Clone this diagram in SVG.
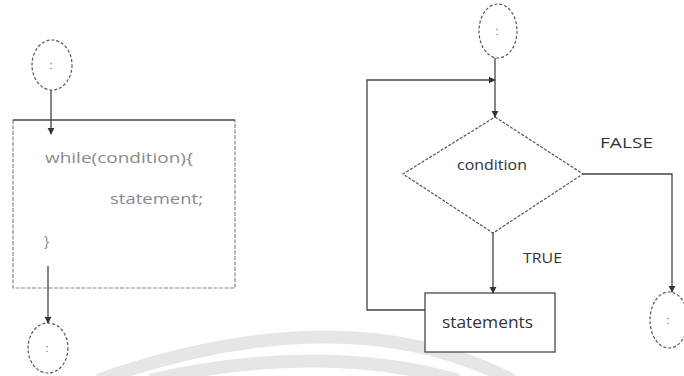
<svg xmlns="http://www.w3.org/2000/svg" width="684" height="376" viewBox="0 0 684 376">
  <defs>
    <marker id="arrow" viewBox="0 0 10 10" refX="9" refY="5" markerWidth="7" markerHeight="8" markerUnits="userSpaceOnUse" orient="auto">
      <path d="M0,0 L10,5 L0,10 Z" fill="#333"/>
    </marker>
    <style>
      .term { fill: #fff; stroke: #555; stroke-width: 1.2; stroke-dasharray: 3 2; }
      .box { fill: #fff; stroke: #555; stroke-width: 1.4; }
      .frame { fill: none; stroke: #888; stroke-width: 1.2; stroke-dasharray: 4 1.5; }
      .dia { fill: #fff; stroke: #555; stroke-width: 1.2; stroke-dasharray: 3 1.5; }
      .edge { fill: none; stroke: #444; stroke-width: 1.3; }
      .lbl { font-family: "Open Sans", "Liberation Sans", sans-serif; fill: #333; }
      .code { font-family: "Open Sans", "Liberation Sans", sans-serif; fill: #8a8a8a; font-size: 14px; }
      .dot { font-family: "Liberation Sans", sans-serif; fill: #666; font-size: 11px; text-anchor: middle; }
      .mark { fill: none; stroke: #e6e6e6; stroke-width: 13; }
    </style>
  </defs>

  <rect width="684" height="376" fill="#fff"/>

  <!-- background arcs -->
  <path class="mark" d="M 98 380 Q 345 294 512 380"/>
  <path class="mark" d="M 150 380 Q 320 342 458 380"/>

  <!-- left: while statement -->
  <g id="start-left">
    <ellipse class="term" cx="52" cy="65" rx="20" ry="25"/>
    <text class="dot" x="51" y="69">:</text>
  </g>
  <g id="while-block">
    <rect x="13" y="120" width="222" height="168" fill="#fff"/>
    <polyline class="frame" points="13,120 13,288 235,288 235,120"/>
    <line x1="13" y1="120" x2="235" y2="120" stroke="#444" stroke-width="1.5"/>
    <text class="code" x="45" y="163" textLength="148" lengthAdjust="spacingAndGlyphs">while(condition){</text>
    <text class="code" x="110" y="204" textLength="93" lengthAdjust="spacingAndGlyphs">statement;</text>
    <text class="code" x="44" y="246">}</text>
  </g>
  <g id="end-left">
    <ellipse class="term" cx="48" cy="348" rx="20" ry="25"/>
    <text class="dot" x="47" y="352">:</text>
  </g>

  <!-- right: flowchart -->
  <g id="start-right">
    <ellipse class="term" cx="498" cy="31" rx="19" ry="27"/>
    <text class="dot" x="497" y="35">:</text>
  </g>
  <g id="condition">
    <polygon class="dia" points="495,117 583,174 493,233 403,174"/>
    <text class="lbl" x="457" y="170" font-size="15" textLength="70" lengthAdjust="spacingAndGlyphs">condition</text>
  </g>
  <g id="statements">
    <rect class="box" x="425" y="293" width="130" height="59"/>
    <text class="lbl" x="442" y="328" font-size="16" textLength="91" lengthAdjust="spacingAndGlyphs">statements</text>
  </g>
  <g id="end-right">
    <ellipse class="term" cx="669" cy="320" rx="19" ry="28"/>
    <text class="dot" x="668" y="324">:</text>
  </g>

  <g id="connectors">
    <!-- left -->
    <line class="edge" x1="51" y1="90" x2="51" y2="134" marker-end="url(#arrow)"/>
    <line class="edge" x1="48" y1="266" x2="48" y2="323" marker-end="url(#arrow)"/>
    <!-- right -->
    <line class="edge" x1="495" y1="58" x2="495" y2="117" marker-end="url(#arrow)"/>
    <polyline class="edge" points="425,310 367,310 367,80 495,80" marker-end="url(#arrow)"/>
    <line class="edge" x1="493" y1="233" x2="493" y2="293" marker-end="url(#arrow)"/>
    <polyline class="edge" points="583,174 672,174 672,292" marker-end="url(#arrow)"/>
    <text class="lbl" x="600" y="148" font-size="15" textLength="53" lengthAdjust="spacingAndGlyphs">FALSE</text>
    <text class="lbl" x="523" y="263" font-size="15" textLength="39" lengthAdjust="spacingAndGlyphs">TRUE</text>
  </g>
</svg>
